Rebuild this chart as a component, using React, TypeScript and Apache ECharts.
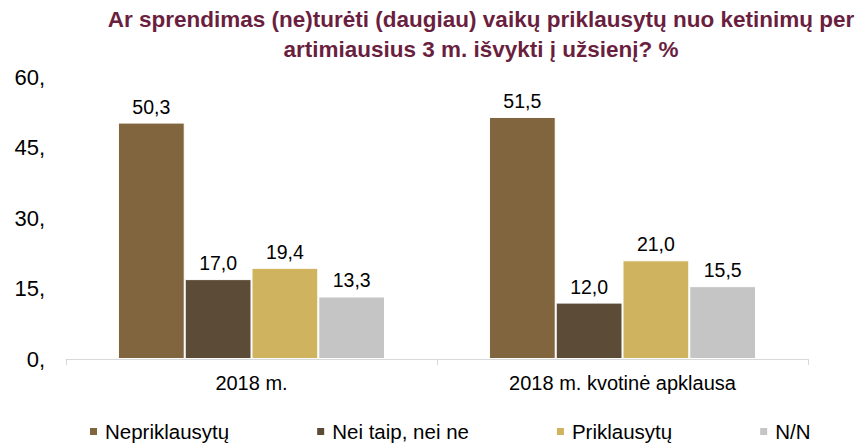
import React, { useEffect, useRef } from "react";
import * as echarts from "echarts";

const categories = ["2018 m.", "2018 m. kvotinė apklausa"];
const seriesNames = ["Nepriklausytų", "Nei taip, nei ne", "Priklausytų", "N/N"];
const nepriklausytu = [50.3, 51.5];
const neiTaipNeiNe = [17.0, 12.0];
const priklausytu = [19.4, 21.0];
const nn = [13.3, 15.5];
const seriesValues = [nepriklausytu, neiTaipNeiNe, priklausytu, nn];
const colors = ["#80653F", "#5C4B37", "#CFB35F", "#C5C5C5"];
const titleText =
  "Ar sprendimas (ne)turėti (daugiau) vaikų priklausytų nuo ketinimų per\nartimiausius 3 m. išvykti į užsienį? %";

const FONT = "'Liberation Sans', Arial, sans-serif";

export default function App() {
  const ref = useRef<HTMLDivElement>(null);
  useEffect(() => {
    if (!ref.current) return;
    const chart = echarts.init(ref.current, undefined, { renderer: "svg" });
    chart.setOption({
      animation: false,
      backgroundColor: "#ffffff",
      textStyle: { fontFamily: FONT },
      graphic: [
        {
          type: "text",
          x: 481,
          y: 4,
          style: {
            text: titleText,
            align: "center",
            verticalAlign: "top",
            font: `bold 22.5px ${FONT}`,
            fill: "#6B1F3F",
            lineHeight: 30,
          },
        },
      ],
      grid: { left: 66, right: 58, top: 77, bottom: 86, containLabel: false },
      legend: {
        data: seriesNames,
        left: 88,
        top: 421,
        padding: 0,
        icon: "rect",
        itemWidth: 9,
        itemHeight: 9,
        itemGap: 86,
        textStyle: { fontSize: 20.5, color: "#000", fontFamily: FONT, padding: [0, 0, 0, 2] },
      },
      xAxis: {
        type: "category",
        data: categories,
        axisLine: { show: true, lineStyle: { color: "#D9D9D9", width: 1 } },
        axisTick: { show: true, length: 6, lineStyle: { color: "#D9D9D9" } },
        axisLabel: { fontSize: 20, color: "#000", margin: 14, fontFamily: FONT },
      },
      yAxis: {
        type: "value",
        min: 0,
        max: 60,
        interval: 15,
        axisLine: { show: false },
        axisTick: { show: false },
        splitLine: { show: false },
        axisLabel: {
          fontSize: 22,
          color: "#000",
          margin: 21,
          fontFamily: FONT,
          formatter: (v: number) => `${v},`,
        },
      },
      series: seriesNames.map((name, i) => ({
        name,
        type: "bar",
        data: seriesValues[i],
        barGap: "0%",
        barCategoryGap: "28%",
        itemStyle: { color: colors[i], borderColor: "#ffffff", borderWidth: 1 },
        label: {
          show: true,
          position: "top",
          distance: 6,
          fontSize: 19.5,
          color: "#000",
          fontFamily: FONT,
          formatter: (p: any) => Number(p.value).toFixed(1).replace(".", ","),
        },
      })),
    });
    return () => chart.dispose();
  }, []);
  return (
    <div
      ref={ref}
      style={{ position: "fixed", left: 0, top: 0, width: 866, height: 445, background: "#fff" }}
    />
  );
}
